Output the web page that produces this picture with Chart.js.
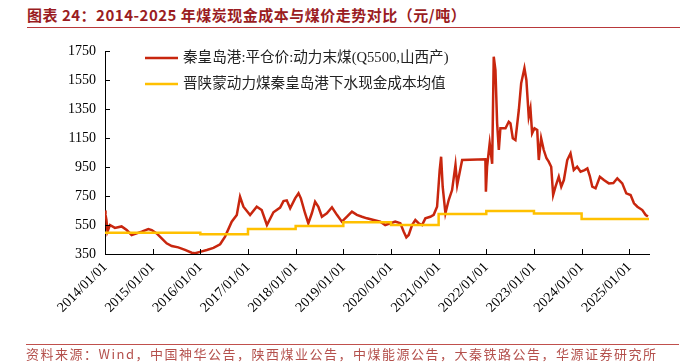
<!DOCTYPE html>
<html><head><meta charset="utf-8">
<script src="https://cdn.jsdelivr.net/npm/chart.js@4/dist/chart.umd.min.js"></script>
<style>
html,body{margin:0;padding:0;background:#fff;width:680px;height:362px;overflow:hidden;}
#wrap{position:relative;width:680px;height:362px;}
#title{position:absolute;left:27px;top:5px;font:bold 15px "Noto Sans CJK SC",sans-serif;color:#9a1c22;white-space:nowrap;line-height:20px;letter-spacing:0.5px;}
#tline{position:absolute;left:27px;right:0;top:27px;border-top:1.5px solid #b8383a;}
#fline{position:absolute;left:26px;right:1px;top:344px;border-top:1.5px solid #c0504d;}
#foot{position:absolute;left:26px;top:346px;font:13px "Noto Sans CJK SC",sans-serif;color:#b4504c;letter-spacing:1.5px;white-space:nowrap;line-height:16px;}
canvas{position:absolute;left:0;top:0;}
</style></head>
<body><div id="wrap">
<div id="title">图表 24：2014-2025 年煤炭现金成本与煤价走势对比（元/吨）</div>
<div id="tline"></div>
<canvas id="c" width="680" height="362"></canvas>
<div id="fline"></div>
<div id="foot">资料来源：Wind，中国神华公告，陕西煤业公告，中煤能源公告，大秦铁路公告，华源证券研究所</div>
</div>
<script>
const seriesNames = ['秦皇岛港:平仓价:动力末煤(Q5500,山西产)', '晋陕蒙动力煤秦皇岛港下水现金成本均值'];
const xTickLabels = ['2014/01/01','2015/01/01','2016/01/01','2017/01/01','2018/01/01','2019/01/01','2020/01/01','2021/01/01','2022/01/01','2023/01/01','2024/01/01','2025/01/01'];
const yTickValues = [350,550,750,950,1150,1350,1550,1750];
const axisStart = '2014-01-01';
const axisEnd = '2025-06-01';

const priceDates = ['2014-01-01','2014-01-05','2014-01-12','2014-01-20','2014-02-08','2014-03-18','2014-05-08','2014-06-16','2014-07-24','2014-09-01','2014-10-09','2014-11-29','2014-12-25',
'2015-02-01','2015-03-11','2015-04-18','2015-05-27','2015-07-16','2015-09-06','2015-10-27','2015-11-22','2015-12-30',
'2016-02-20','2016-04-11','2016-06-01','2016-07-09','2016-08-29','2016-10-07','2016-11-01','2016-11-27',
'2017-01-17','2017-03-09','2017-04-16','2017-05-26','2017-07-15','2017-09-04','2017-09-30','2017-10-25','2017-11-20','2017-12-28',
'2018-01-23','2018-02-10','2018-03-14','2018-04-08','2018-05-05','2018-05-30','2018-06-24','2018-07-21','2018-08-28','2018-10-06','2018-11-13','2018-12-21',
'2019-01-29','2019-03-08','2019-04-15','2019-05-24','2019-07-01','2019-08-21','2019-10-11','2019-11-18','2019-12-27',
'2020-02-03','2020-03-13','2020-04-08','2020-04-28','2020-05-16','2020-06-11','2020-07-06','2020-07-31','2020-08-27','2020-09-21','2020-10-29','2020-11-24','2020-12-20',
'2021-01-09','2021-01-20','2021-02-01','2021-02-22','2021-03-19','2021-04-14','2021-05-10','2021-05-23','2021-06-30','2021-12-25','2021-12-29',
'2022-01-07','2022-01-27','2022-02-15','2022-02-27','2022-03-12','2022-03-25','2022-04-07','2022-04-19','2022-05-28','2022-06-22','2022-07-05','2022-07-23','2022-08-12','2022-09-07','2022-09-25','2022-10-20','2022-11-04','2022-11-22','2022-12-05','2022-12-18',
'2023-01-05','2023-01-26','2023-02-07','2023-02-25','2023-03-17','2023-04-07','2023-04-24','2023-05-13','2023-05-28','2023-06-15','2023-07-10','2023-07-29','2023-08-18','2023-09-13','2023-10-08','2023-11-02','2023-11-28','2023-12-24',
'2024-01-24','2024-02-14','2024-03-04','2024-03-23','2024-04-17','2024-05-20','2024-06-20','2024-07-28','2024-09-01','2024-10-01','2024-11-08','2024-12-09',
'2025-01-11','2025-02-06','2025-03-04','2025-04-11','2025-05-07','2025-05-24'];
const priceValues = [650,620,585,505,550,530,540,515,481,492,504,522,515,
492,458,424,405,396,378,359,355,365,
378,392,417,470,573,619,745,676,
619,676,653,550,638,670,715,720,665,734,
769,734,631,562,631,711,676,607,631,672,620,573,
607,642,620,607,596,584,573,550,562,
573,562,504,465,481,550,584,562,550,596,607,620,676,
929,1021,814,631,722,791,964,826,998,1003,780,
952,1113,972,1711,1619,1251,1067,1217,1217,1262,1251,1148,1136,1343,1527,1631,1550,1297,1354,1182,
1217,1205,998,1148,1067,1010,987,952,757,814,883,814,860,998,1044,929,952,918,
929,940,888,814,803,883,860,837,840,872,837,768,
757,700,676,653,619,608];

const costDates = ['2014-01-01','2015-01-01','2016-01-01','2017-01-01','2018-01-01','2019-01-01','2020-01-01','2021-01-01','2022-01-01','2023-01-01','2024-01-01','2025-06-01'];
const costValues = [497,497,486,522,543,569,550,626,647,630,591,591];

function toYear(s){
  const p = s.split(/[-\/]/).map(Number);
  const start = Date.UTC(p[0],0,1), end = Date.UTC(p[0]+1,0,1);
  return p[0] + (Date.UTC(p[0],p[1]-1,p[2]) - start)/(end-start);
}
const priceData = priceDates.map((d,i)=>({x:toYear(d), y:priceValues[i]}));
const costData = costDates.map((d,i)=>({x:toYear(d), y:costValues[i]}));
const xTickValues = xTickLabels.map(toYear);

const RED = '#c8260e', YEL = '#ffc000';

const innerTicks = {
  id:'innerTicks',
  afterDraw(chart){
    const ctx = chart.ctx, a = chart.chartArea;
    const xs = chart.scales.x, ys = chart.scales.y;
    ctx.save();
    ctx.strokeStyle = '#000'; ctx.lineWidth = 1;
    ctx.beginPath();
    xs.ticks.forEach(t=>{ const px = Math.round(xs.getPixelForValue(t.value))+0.5; ctx.moveTo(px, a.bottom); ctx.lineTo(px, a.bottom-5); });
    ys.ticks.forEach(t=>{ const py = Math.round(ys.getPixelForValue(t.value))+0.5; ctx.moveTo(a.left, py); ctx.lineTo(a.left+5, py); });
    ctx.stroke();
    ctx.font = '14.6px "Liberation Serif","Noto Sans CJK SC",serif';
    ctx.textBaseline = 'middle';
    ctx.fillStyle = '#222';
    const colors = [RED, YEL];
    seriesNames.forEach((n,i)=>{
      const y = a.top + 7 + i*26;
      ctx.strokeStyle = colors[i]; ctx.lineWidth = 2.5;
      ctx.beginPath(); ctx.moveTo(a.left+40, y); ctx.lineTo(a.left+73, y); ctx.stroke();
      ctx.fillText(n, a.left+78, y);
    });
    ctx.restore();
  }
};

new Chart(document.getElementById('c'), {
  type:'line',
  data:{datasets:[
    {label:seriesNames[0], data:priceData, borderColor:RED, borderWidth:2.5, pointRadius:0, tension:0, order:1},
    {label:seriesNames[1], data:costData, borderColor:YEL, borderWidth:2.5, pointRadius:0, stepped:true, order:0}
  ]},
  options:{
    responsive:false, animation:false, devicePixelRatio:1,
    layout:{padding:{left:0, top:51, right:31, bottom:0}},
    plugins:{legend:{display:false}, tooltip:{enabled:false}},
    scales:{
      x:{type:'linear', min:toYear(axisStart), max:toYear(axisEnd),
        afterBuildTicks(s){ s.ticks = xTickValues.map(v=>({value:v})); },
        afterFit(s){ s.height = 108; },
        grid:{display:false, drawTicks:false},
        border:{display:true, color:'#000', width:1},
        ticks:{autoSkip:false, minRotation:45, maxRotation:45, padding:5, color:'#000',
          font:{family:'"Liberation Serif",serif', size:14},
          callback:(v,i)=>xTickLabels[i]}
      },
      y:{type:'linear', min:350, max:1750,
        afterBuildTicks(s){ s.ticks = yTickValues.map(v=>({value:v})); },
        afterFit(s){ s.width = 105; },
        grid:{display:false, drawTicks:false},
        border:{display:true, color:'#000', width:1},
        ticks:{padding:9, color:'#000', font:{family:'"Liberation Serif",serif', size:14},
          callback:(v)=>String(v)}
      }
    }
  },
  plugins:[innerTicks]
});
</script>
</body></html>
